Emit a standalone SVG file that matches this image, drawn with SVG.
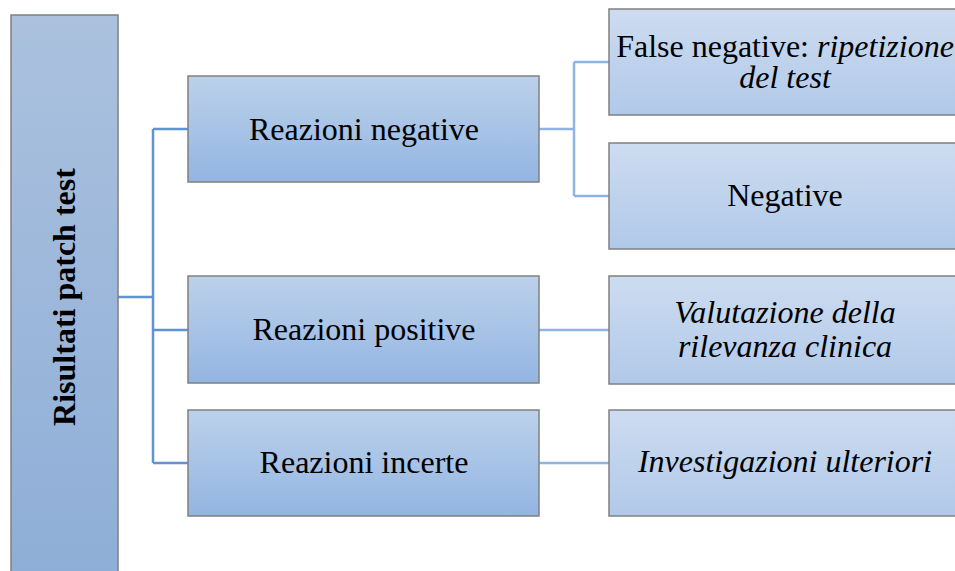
<svg xmlns="http://www.w3.org/2000/svg" width="955" height="571" viewBox="0 0 955 571">
<defs>
<linearGradient id="gRoot" x1="0" y1="0" x2="0" y2="1"><stop offset="0" stop-color="#abc1de"/><stop offset="1" stop-color="#8eaed7"/></linearGradient>
<linearGradient id="gMid" x1="0" y1="0" x2="0" y2="1"><stop offset="0" stop-color="#bcd1ea"/><stop offset="1" stop-color="#93b5e2"/></linearGradient>
<linearGradient id="gLeaf" x1="0" y1="0" x2="0" y2="1"><stop offset="0" stop-color="#cddcf0"/><stop offset="1" stop-color="#b1c9e9"/></linearGradient>
</defs>
<style>
.box{stroke:#808080;stroke-width:1.5}
.c1{fill:none;stroke:#5f93d3;stroke-width:2.5}
.c2{fill:none;stroke:#8fb3e2;stroke-width:2.5}
</style>
<rect width="955" height="571" fill="#fff"/>
<g id="connectors">
<path class="c1" d="M118 297H153M153 129V463M153 129H188M153 330H188M153 463H188"/>
<path class="c2" d="M539 129H574M574 62V196M574 62H609M574 196H609M539 330H609M539 463H609"/>
</g>
<g font-family="Liberation Serif, serif" font-size="32" text-anchor="middle" fill="#000">
<g id="root">
<rect class="box" x="11" y="15" width="107" height="570" fill="url(#gRoot)"/>
<text transform="translate(75 297) rotate(-90)" font-weight="bold" fill="#000">Risultati patch test</text>
</g>
<g id="neg">
<rect class="box" x="188" y="76" width="351" height="106" fill="url(#gMid)"/>
<text x="364" y="140" fill="#000">Reazioni negative</text>
</g>
<g id="pos">
<rect class="box" x="188" y="276" width="351" height="107" fill="url(#gMid)"/>
<text x="364" y="340" fill="#000">Reazioni positive</text>
</g>
<g id="inc">
<rect class="box" x="188" y="410" width="351" height="106" fill="url(#gMid)"/>
<text x="364" y="473" fill="#000">Reazioni incerte</text>
</g>
<g id="falseneg">
<rect class="box" x="609" y="9" width="360" height="106" fill="url(#gLeaf)"/>
<text x="785" y="57" fill="#000">False negative: <tspan font-style="italic">ripetizione</tspan></text>
<text x="785" y="88" font-style="italic" fill="#000">del test</text>
</g>
<g id="negative">
<rect class="box" x="609" y="143" width="360" height="106" fill="url(#gLeaf)"/>
<text x="785" y="206" fill="#000">Negative</text>
</g>
<g id="valutazione">
<rect class="box" x="609" y="276" width="360" height="108" fill="url(#gLeaf)"/>
<text x="785" y="323" font-style="italic" fill="#000">Valutazione della</text>
<text x="785" y="357" font-style="italic" fill="#000">rilevanza clinica</text>
</g>
<g id="investigazioni">
<rect class="box" x="609" y="410" width="360" height="106" fill="url(#gLeaf)"/>
<text x="785" y="472" font-style="italic" fill="#000">Investigazioni ulteriori</text>
</g>
</g>
</svg>
